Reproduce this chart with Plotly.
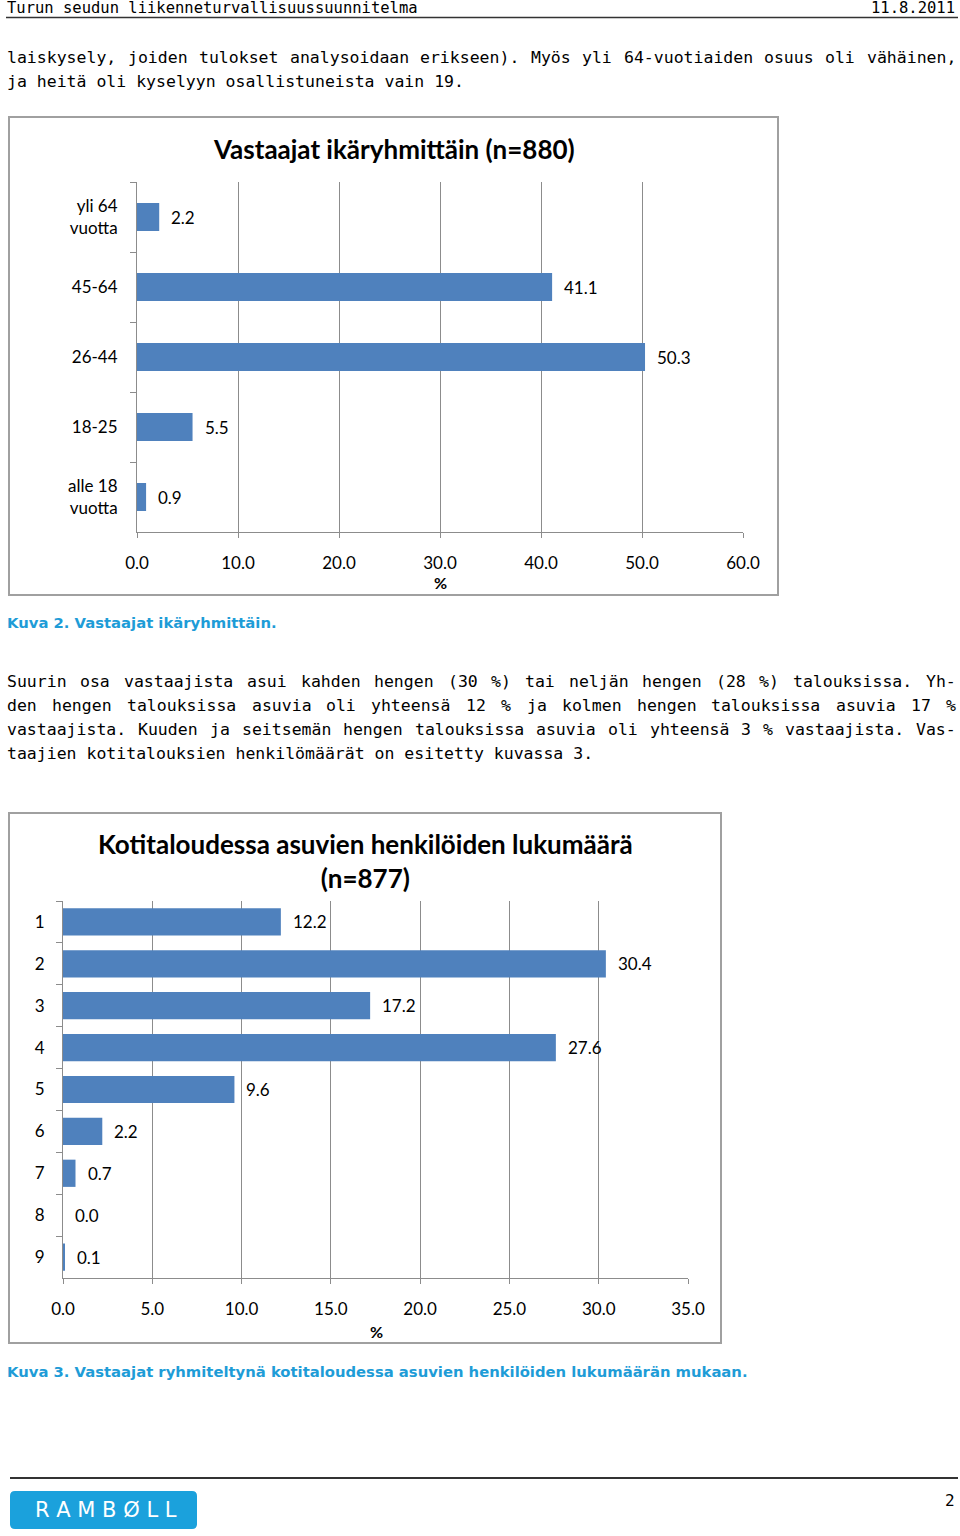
import plotly.graph_objects as go

# ---------------- data ----------------
age_groups = ["yli 64<br>vuotta", "45-64", "26-44", "18-25", "alle 18<br>vuotta"]
age_values = [2.2, 41.1, 50.3, 5.5, 0.9]
age_ticks = [0, 10, 20, 30, 40, 50, 60]

household_sizes = ["1", "2", "3", "4", "5", "6", "7", "8", "9"]
household_values = [12.2, 30.4, 17.2, 27.6, 9.6, 2.2, 0.7, 0.0, 0.1]
household_ticks = [0, 5, 10, 15, 20, 25, 30, 35]

title1 = "Vastaajat ikäryhmittäin (n=880)"
title2 = "Kotitaloudessa asuvien henkilöiden lukumäärä<br>(n=877)"
caption1 = "Kuva 2. Vastaajat ikäryhmittäin."
caption2 = "Kuva 3. Vastaajat ryhmiteltynä kotitaloudessa asuvien henkilöiden lukumäärän mukaan."
header_left = "Turun seudun liikenneturvallisuussuunnitelma"
header_right = "11.8.2011"
para1 = [
    "laiskysely, joiden tulokset analysoidaan erikseen). Myös yli 64-vuotiaiden osuus oli vähäinen,",
    "ja heitä oli kyselyyn osallistuneista vain 19.",
]
para1_justified = [True, False]
para2 = [
    "Suurin osa vastaajista asui kahden hengen (30 %) tai neljän hengen (28 %) talouksissa. Yh-",
    "den hengen talouksissa asuvia oli yhteensä 12 % ja kolmen hengen talouksissa asuvia 17 %",
    "vastaajista. Kuuden ja seitsemän hengen talouksissa asuvia oli yhteensä 3 % vastaajista. Vas-",
    "taajien kotitalouksien henkilömäärät on esitetty kuvassa 3.",
]
para2_justified = [True, True, True, False]
page_number = "2"
logo_text = "R A M B Ø L L"

# ---------------- layout helpers ----------------
W, H = 960, 1536
def px(x):
    return x / W
def py(y):
    return 1 - y / H

BAR = "#4F81BD"
GRID = "#8C8C8C"
CHART_FONT = "Lato, Carlito, Calibri, sans-serif"
BODY_FONT = "DejaVu Sans Mono, monospace"
BODY_SIZE = 16.5
MONO_ADV = 0.602
CAP_FONT = "DejaVu Sans, Liberation Sans, sans-serif"
BLUE = "#1E9CD7"

fig = go.Figure()

fig.add_trace(go.Bar(
    x=age_values, y=age_groups, orientation="h", width=0.4,
    marker=dict(color=BAR, line=dict(width=0)),
    xaxis="x", yaxis="y", showlegend=False, hoverinfo="x+y",
))
fig.add_trace(go.Bar(
    x=household_values, y=household_sizes, orientation="h", width=0.65,
    marker=dict(color=BAR, line=dict(width=0)),
    xaxis="x2", yaxis="y2", showlegend=False, hoverinfo="x+y",
))

axis_common = dict(
    showgrid=True, gridcolor=GRID, gridwidth=1,
    showline=True, linecolor=GRID, linewidth=1,
    ticks="outside", ticklen=5, tickcolor=GRID,
    zeroline=False, tickfont=dict(family=CHART_FONT, size=17, color="#000"),
    fixedrange=True, automargin=False,
)
yaxis_common = dict(
    showgrid=False, showline=True, linecolor=GRID, linewidth=1,
    ticks="outside", ticklen=6, tickcolor=GRID, tickson="boundaries",
    tickfont=dict(family=CHART_FONT, size=17, color="#000"),
    autorange="reversed", type="category", fixedrange=True, automargin=False,
)

fig.update_layout(
    width=W, height=H, autosize=False,
    margin=dict(l=0, r=0, t=0, b=0, pad=0, autoexpand=False),
    paper_bgcolor="white", plot_bgcolor="white",
    xaxis=dict(axis_common, domain=[px(137), px(743)], range=[0, 60],
               tickvals=age_ticks, tickformat=".1f", anchor="y",
               ticklabelstandoff=11),
    yaxis=dict(yaxis_common, domain=[py(532), py(182)], anchor="x",
               ticklabelstandoff=15),
    xaxis2=dict(axis_common, domain=[px(63), px(688)], range=[0, 35],
                tickvals=household_ticks, tickformat=".1f", anchor="y2",
                ticklabelstandoff=11),
    yaxis2=dict(yaxis_common, domain=[py(1278), py(901)], anchor="x2",
                ticklabelstandoff=14),
)

ann = []
# value labels (category positions by index)
for i, v in enumerate(age_values):
    ann.append(dict(x=v, y=i, xref="x", yref="y", text=f"{v:.1f}",
                    xanchor="left", yanchor="middle", xshift=10, showarrow=False,
                    font=dict(family=CHART_FONT, size=17, color="#000")))
for i, v in enumerate(household_values):
    ann.append(dict(x=v, y=i, xref="x2", yref="y2", text=f"{v:.1f}",
                    xanchor="left", yanchor="middle", xshift=10, showarrow=False,
                    font=dict(family=CHART_FONT, size=17, color="#000")))

# chart titles and axis titles
ann.append(dict(x=px(394), y=py(149), xref="paper", yref="paper", text=f"<b>{title1}</b>",
                showarrow=False, xanchor="center", yanchor="middle",
                font=dict(family=CHART_FONT, size=26, color="#000")))
ann.append(dict(x=px(365), y=py(861), xref="paper", yref="paper", text=f"<b>{title2}</b>",
                showarrow=False, xanchor="center", yanchor="middle",
                font=dict(family=CHART_FONT, size=26, color="#000")))
ann.append(dict(x=px(440), y=py(582), xref="paper", yref="paper", text="<b>%</b>",
                showarrow=False, xanchor="center", yanchor="middle",
                font=dict(family=CHART_FONT, size=16, color="#000")))
ann.append(dict(x=px(376), y=py(1331), xref="paper", yref="paper", text="<b>%</b>",
                showarrow=False, xanchor="center", yanchor="middle",
                font=dict(family=CHART_FONT, size=16, color="#000")))

# captions
ann.append(dict(x=px(5), y=py(622), xref="paper", yref="paper", text=f"<b>{caption1}</b>",
                showarrow=False, xanchor="left", yanchor="middle",
                font=dict(family=CAP_FONT, size=14.8, color=BLUE)))
ann.append(dict(x=px(5), y=py(1371), xref="paper", yref="paper", text=f"<b>{caption2}</b>",
                showarrow=False, xanchor="left", yanchor="middle",
                font=dict(family=CAP_FONT, size=14.8, color=BLUE)))

# header
ann.append(dict(x=px(5), y=py(8), xref="paper", yref="paper", text=header_left,
                showarrow=False, xanchor="left", yanchor="middle",
                font=dict(family=BODY_FONT, size=15.5, color="#000")))
ann.append(dict(x=px(957), y=py(8), xref="paper", yref="paper", text=header_right,
                showarrow=False, xanchor="right", yanchor="middle",
                font=dict(family=BODY_FONT, size=15.5, color="#000")))

# body paragraphs (justified lines laid out word by word)
def add_line(line, y, justify, left=6, right=955):
    font = dict(family=BODY_FONT, size=BODY_SIZE, color="#000")
    if not justify:
        ann.append(dict(x=px(left - 1), y=py(y), xref="paper", yref="paper", text=line,
                        showarrow=False, xanchor="left", yanchor="middle", font=font))
        return
    words = line.split(" ")
    cw = MONO_ADV * BODY_SIZE
    total = sum(len(w) for w in words) * cw
    gap = (right - left - total) / (len(words) - 1)
    x = left
    for w in words:
        ann.append(dict(x=px(x - 1), y=py(y), xref="paper", yref="paper", text=w,
                        showarrow=False, xanchor="left", yanchor="middle", font=font))
        x += len(w) * cw + gap

for i, (line, j) in enumerate(zip(para1, para1_justified)):
    add_line(line, 57 + 24 * i, j)
for i, (line, j) in enumerate(zip(para2, para2_justified)):
    add_line(line, 681 + 24 * i, j)

# footer
ann.append(dict(x=px(957), y=py(1500), xref="paper", yref="paper", text=page_number,
                showarrow=False, xanchor="right", yanchor="middle",
                font=dict(family=BODY_FONT, size=16, color="#000")))
ann.append(dict(x=px(106), y=py(1510), xref="paper", yref="paper", text=logo_text,
                showarrow=False, xanchor="center", yanchor="middle",
                font=dict(family="DejaVu Sans, sans-serif", size=21, color="white")))

fig.update_layout(annotations=ann)

# shapes: chart frames, header/footer lines, logo background
def rounded_rect(x0, y0, x1, y1, r):
    X0, X1 = px(x0), px(x1)
    Y0, Y1 = py(y0), py(y1)
    rx, ry = r / W, r / H
    return (f"M {X0+rx},{Y0} L {X1-rx},{Y0} Q {X1},{Y0} {X1},{Y0-ry} "
            f"L {X1},{Y1+ry} Q {X1},{Y1} {X1-rx},{Y1} L {X0+rx},{Y1} "
            f"Q {X0},{Y1} {X0},{Y1+ry} L {X0},{Y0-ry} Q {X0},{Y0} {X0+rx},{Y0} Z")

shapes = [
    dict(type="rect", xref="paper", yref="paper", x0=px(9), x1=px(778), y0=py(117), y1=py(595),
         line=dict(color="#A0A0A0", width=2), fillcolor="rgba(0,0,0,0)", layer="below"),
    dict(type="rect", xref="paper", yref="paper", x0=px(9), x1=px(721), y0=py(813), y1=py(1343),
         line=dict(color="#A0A0A0", width=2), fillcolor="rgba(0,0,0,0)", layer="below"),
    dict(type="line", xref="paper", yref="paper", x0=px(6), x1=px(958), y0=py(17.5), y1=py(17.5),
         line=dict(color="#333333", width=1.5)),
    dict(type="line", xref="paper", yref="paper", x0=px(10), x1=px(958), y0=py(1478), y1=py(1478),
         line=dict(color="#333333", width=2)),
    dict(type="path", xref="paper", yref="paper", path=rounded_rect(10, 1491, 197, 1529, 5),
         fillcolor="#1BA1DC", line=dict(width=0)),
]
fig.update_layout(shapes=shapes)

fig.write_html(
    "out.html",
    config={"displayModeBar": False, "staticPlot": False},
    post_script="document.body.style.margin='0';document.body.style.overflow='hidden';",
)
